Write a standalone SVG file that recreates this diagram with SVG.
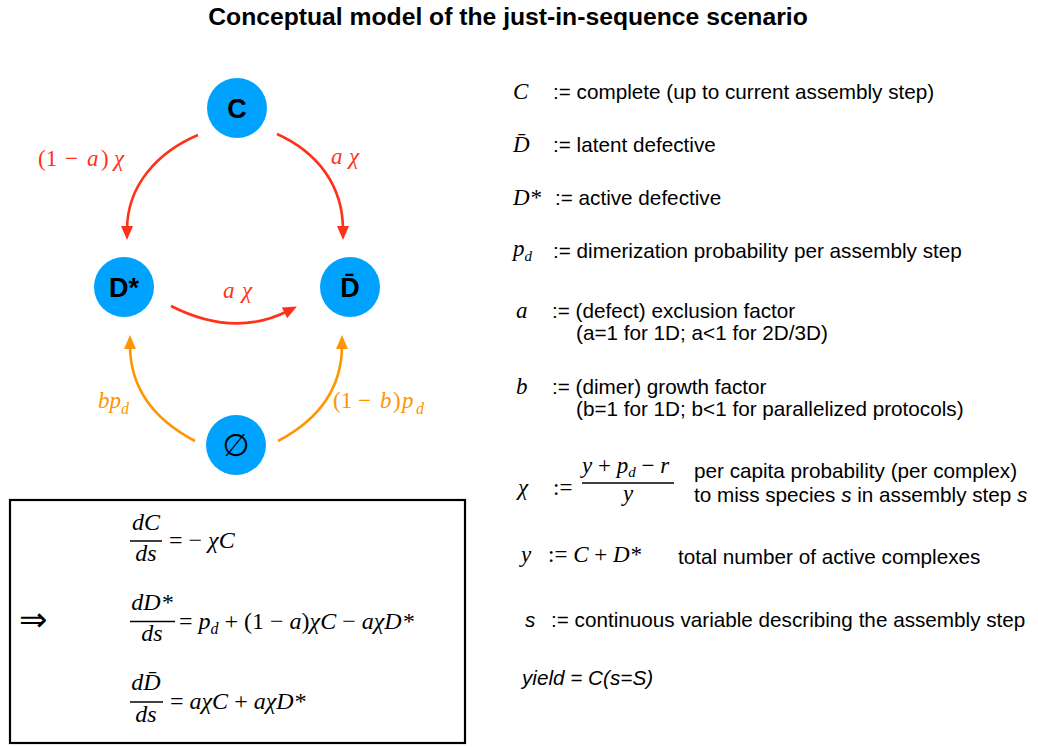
<svg xmlns="http://www.w3.org/2000/svg" width="1038" height="747" viewBox="0 0 1038 747">
<defs>
<style>
.sans{font-family:'Liberation Sans',Arial,sans-serif;fill:#000}
.title{font-family:'Liberation Sans',Arial,sans-serif;font-weight:bold;font-size:24.7px;fill:#000}
.nl{font-family:'Liberation Sans',Arial,sans-serif;font-weight:bold;font-size:27px;fill:#000}
.m{font-family:'Liberation Serif','Times New Roman',serif;fill:#000}
.i{font-style:italic}
.red{fill:#FF3219}
.org{fill:#FF9500}
.node{fill:#00A2FF}
.er{fill:none;stroke:#FF3219;stroke-width:2.6}
.eo{fill:none;stroke:#FF9500;stroke-width:2.6}
.lg{font-family:'Liberation Sans',Arial,sans-serif;font-size:20.7px;fill:#000}
.lm{font-family:'Liberation Serif','Times New Roman',serif;font-size:23px;fill:#000}
.eq{font-family:'Liberation Serif','Times New Roman',serif;font-size:24px;fill:#000}
.fl{stroke:#000;stroke-width:1.5}
</style>
<marker id="ahr" markerUnits="userSpaceOnUse" viewBox="0 0 16 14" markerWidth="16" markerHeight="14" refX="4" refY="7" orient="auto"><path d="M0,1 L14,7 L0,13 z" fill="#FF3219"/></marker>
<marker id="aho" markerUnits="userSpaceOnUse" viewBox="0 0 16 14" markerWidth="16" markerHeight="14" refX="4" refY="7" orient="auto"><path d="M0,1 L14,7 L0,13 z" fill="#FF9500"/></marker>
</defs>
<rect width="1038" height="747" fill="#fff"/>
<text class="title" x="508" y="25" text-anchor="middle">Conceptual model of the just-in-sequence scenario</text>

<g id="connectors">
<path class="er" d="M198,135 C158,152 127,185 127,230" marker-end="url(#ahr)"/>
<path class="er" d="M277,134 C317,152 343,185 343,230" marker-end="url(#ahr)"/>
<path class="er" d="M171,306 Q234,338 288,311" marker-end="url(#ahr)"/>
<path class="eo" d="M195,441 C155,420 130,390 130,345" marker-end="url(#aho)"/>
<path class="eo" d="M278,441 C318,420 342,390 342,345" marker-end="url(#aho)"/>
<text class="m red" font-size="23"><tspan x="38" y="166">(1</tspan><tspan x="65" y="166">−</tspan><tspan x="87" y="166" class="i">a</tspan><tspan x="101" y="166">)</tspan><tspan x="114" y="166" class="i">χ</tspan></text>
<text class="m red i" font-size="23"><tspan x="331" y="164">a</tspan><tspan x="349" y="164">χ</tspan></text>
<text class="m red i" font-size="23"><tspan x="223" y="298">a</tspan><tspan x="242" y="298">χ</tspan></text>
<text class="m org" font-size="23"><tspan x="98" y="408" class="i">bp</tspan><tspan x="121" y="414" class="i" font-size="16">d</tspan></text>
<text class="m org" font-size="23"><tspan x="333" y="408">(1</tspan><tspan x="358" y="408">−</tspan><tspan x="380" y="408" class="i">b</tspan><tspan x="393" y="408">)</tspan><tspan x="402" y="408" class="i">p</tspan><tspan x="416" y="414" class="i" font-size="16">d</tspan></text>
</g>

<g id="node-C"><circle class="node" cx="237" cy="108" r="30"/><text class="nl" x="237" y="118" text-anchor="middle">C</text></g>
<g id="node-Dstar"><circle class="node" cx="124" cy="287" r="30"/><text class="nl" x="124" y="297" text-anchor="middle">D*</text></g>
<g id="node-Dbar"><circle class="node" cx="350" cy="287" r="30"/><text class="nl" x="350" y="297" text-anchor="middle">D&#x0304;</text></g>
<g id="node-empty"><circle class="node" cx="236" cy="445" r="30"/><text x="236" y="456" text-anchor="middle" font-family="'DejaVu Sans',sans-serif" font-size="31" fill="#000">∅</text></g>

<g id="equations">
<rect x="10" y="500" width="455" height="243" fill="none" stroke="#000" stroke-width="2.2"/>
<text x="19" y="631" font-family="'DejaVu Sans',sans-serif" font-size="34" fill="#000">⇒</text>
<text class="eq i" x="146" y="530" text-anchor="middle">dC</text>
<line class="fl" x1="130" y1="541" x2="162" y2="541"/>
<text class="eq i" x="146" y="561" text-anchor="middle">ds</text>
<text class="eq" x="169" y="548">= − <tspan class="i">χC</tspan></text>
<text class="eq i" x="152" y="610" text-anchor="middle">dD*</text>
<line class="fl" x1="130" y1="621.5" x2="175" y2="621.5"/>
<text class="eq i" x="152" y="641" text-anchor="middle">ds</text>
<text class="eq" x="179" y="628.5">= <tspan class="i">p</tspan><tspan class="i" font-size="16" dy="5">d</tspan><tspan dy="-5"> + (1 − </tspan><tspan class="i">a</tspan>)<tspan class="i">χC</tspan> − <tspan class="i">aχD*</tspan></text>
<text class="eq i" x="146" y="690" text-anchor="middle">dD&#x0304;</text>
<line class="fl" x1="130" y1="702" x2="163" y2="702"/>
<text class="eq i" x="146" y="722" text-anchor="middle">ds</text>
<text class="eq" x="170" y="709">= <tspan class="i">aχC</tspan> + <tspan class="i">aχD*</tspan></text>
</g>

<g id="legend">
<text class="lm i" x="513" y="99">C</text>
<text class="lg" x="553" y="99">:= complete (up to current assembly step)</text>
<text class="lm i" x="513" y="152">D&#x0304;</text>
<text class="lg" x="553" y="152">:= latent defective</text>
<text class="lm i" x="513" y="205">D*</text>
<text class="lg" x="555" y="205">:= active defective</text>
<text class="lm i" x="513" y="256">p<tspan font-size="15" dy="5">d</tspan></text>
<text class="lg" x="553" y="258">:= dimerization probability per assembly step</text>
<text class="lm i" x="516" y="318">a</text>
<text class="lg" x="552" y="318">:= (defect) exclusion factor</text>
<text class="lg" x="576" y="340">(a=1 for 1D; a&lt;1 for 2D/3D)</text>
<text class="lm i" x="516" y="394">b</text>
<text class="lg" x="552" y="394">:= (dimer) growth factor</text>
<text class="lg" x="576" y="416">(b=1 for 1D; b&lt;1 for parallelized protocols)</text>
<text class="lm i" x="518" y="495">χ</text>
<text class="lm" x="553" y="495">:=</text>
<text class="lm" x="582" y="473"><tspan class="i">y</tspan> + <tspan class="i">p</tspan><tspan class="i" font-size="15" dy="4">d</tspan><tspan dy="-4"> − </tspan><tspan class="i">r</tspan></text>
<line x1="582" y1="483" x2="674" y2="483" stroke="#000" stroke-width="1.4"/>
<text class="lm i" x="628" y="501" text-anchor="middle">y</text>
<text class="lg" x="694" y="478">per capita probability (per complex)</text>
<text class="lg" x="694" y="502">to miss species <tspan font-style="italic">s</tspan> in assembly step <tspan font-style="italic">s</tspan></text>
<text class="lm i" x="521" y="562">y</text>
<text class="lm" font-size="24" x="548" y="562">:= <tspan class="i">C</tspan> + <tspan class="i">D*</tspan></text>
<text class="lg" x="678" y="564">total number of active complexes</text>
<text class="lg" x="525" y="627"><tspan font-style="italic">s</tspan></text>
<text class="lg" x="551" y="627">:= continuous variable describing the assembly step</text>
<text class="lg" x="522" y="685" font-style="italic">yield = C(s=S)</text>
</g>
</svg>
